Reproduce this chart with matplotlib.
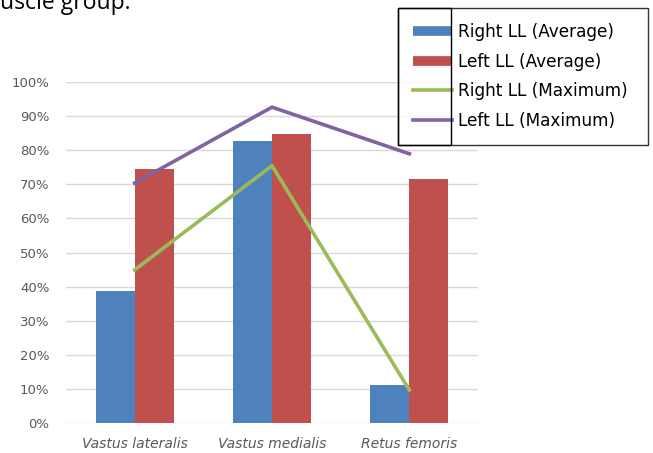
import matplotlib.pyplot as plt
import matplotlib.patches as patches
from matplotlib.lines import Line2D
import numpy as np

# 数据
muscles = ['Vastus lateralis', 'Vastus medialis', 'Retus femoris']
right_avg = [38.7, 82.8, 11.1]
left_avg = [74.6, 84.7, 71.6]
right_max = [44.9, 75.5, 9.6]
left_max = [70.4, 92.7, 79.0]
yticks = [0, 10, 20, 30, 40, 50, 60, 70, 80, 90, 100]

BLUE = '#4F81BD'
RED = '#C0504D'
GREEN = '#9BBB59'
PURPLE = '#8064A2'
GREY = '#595959'

W, H = 653, 453
fig = plt.figure(figsize=(W / 100, H / 100), dpi=100)
ax = fig.add_axes([66 / W, 1 - 422.7 / H, 412 / W, 340.4 / H])

x = np.arange(len(muscles))
bw = 0.285
ax.bar(x - bw / 2, right_avg, bw, color=BLUE, zorder=2)
ax.bar(x + bw / 2, left_avg, bw, color=RED, zorder=2)
ax.plot(x, right_max, color=GREEN, lw=2.6, zorder=3)
ax.plot(x, left_max, color=PURPLE, lw=2.6, zorder=3)

ax.set_xlim(-0.5, len(muscles) - 0.5)
ax.set_ylim(0, 100)
ax.set_yticks(yticks)
ax.set_yticklabels([f'{t}%' for t in yticks], color=GREY, fontsize=9.5)
ax.set_xticks(x)
ax.set_xticklabels(muscles, color=GREY, fontsize=10, style='italic')
ax.tick_params(length=0)
ax.tick_params(axis='y', pad=12)
ax.tick_params(axis='x', pad=10)
ax.grid(axis='y', color='#d9d9d9', lw=1, zorder=0)
ax.set_axisbelow(True)
for s in ax.spines.values():
    s.set_visible(False)

# 图例
handles = [
    Line2D([], [], color=BLUE, lw=7, solid_capstyle='butt'),
    Line2D([], [], color=RED, lw=7, solid_capstyle='butt'),
    Line2D([], [], color=GREEN, lw=2.6),
    Line2D([], [], color=PURPLE, lw=2.6),
]
labels = ['Right LL (Average)', 'Left LL (Average)', 'Right LL (Maximum)', 'Left LL (Maximum)']
leg = ax.legend(handles, labels, loc='upper left', mode='expand',
                bbox_to_anchor=(398 / W, 1 - 145 / H, 250 / W, 137 / H),
                bbox_transform=fig.transFigure,
                fontsize=12.2, frameon=True, fancybox=False, borderaxespad=0,
                handlelength=2.3, handletextpad=0.35, labelspacing=0.68,
                borderpad=0.9)
leg.get_frame().set_edgecolor('black')
leg.get_frame().set_linewidth(1)
leg.set_zorder(5)

# 图例内框
fig.add_artist(patches.Rectangle((398 / W, 1 - 145 / H), 53 / W, 137 / H,
                                 transform=fig.transFigure, fill=False,
                                 edgecolor='black', lw=1, zorder=6))

# 上方截断的正文
fig.text(0, 1 - 9 / H, 'uscle group.', fontsize=16.5, family='Open Sans',
         va='baseline', ha='left', color='black')

plt.savefig('out.png', dpi=100)
